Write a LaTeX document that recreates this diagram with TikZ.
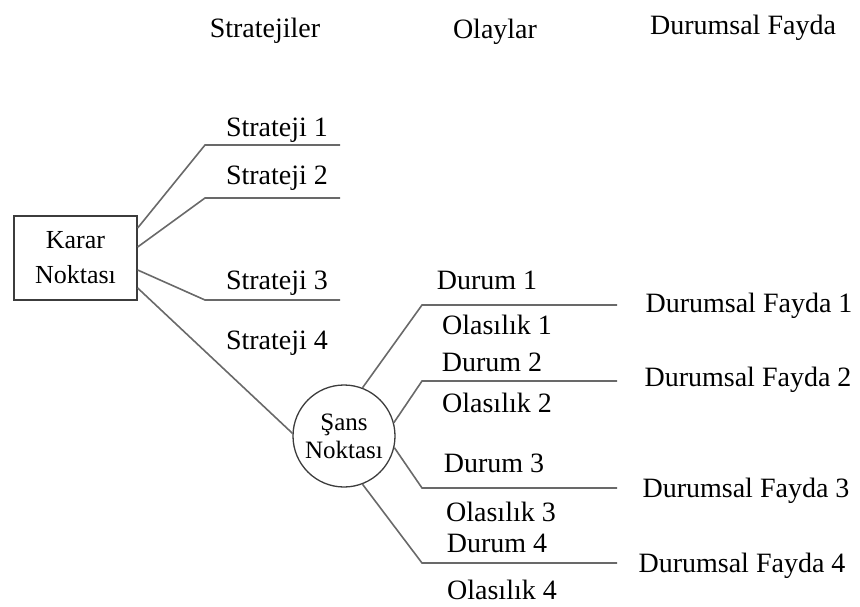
\documentclass[tikz,border=0pt]{standalone}
\usepackage{fontspec}
\setmainfont{Liberation Serif}
\usetikzlibrary{calc}
\definecolor{linegray}{RGB}{105,105,105}
\definecolor{boxgray}{RGB}{60,60,60}
\begin{document}
\begin{tikzpicture}[x=1pt,y=-1pt,
  lbl/.style={inner sep=0pt, text height=18.5pt, text depth=0pt, font=\fontsize{28}{32}\selectfont},
  br/.style={draw=linegray, line width=1.6pt},
  ]
\useasboundingbox (0,0) rectangle (860,606);
% headers
\node[lbl] (hS) at (265,28) {Stratejiler};
\node[lbl] (hO) at (495,29) {Olaylar};
\node[lbl] (hD) at (743,25) {Durumsal Fayda};
% decision node
\node[draw=boxgray, line width=1.3pt, minimum width=123pt, minimum height=84pt, inner sep=0pt,
      align=center, font=\fontsize{26}{35}\selectfont] (karar) at (75.5,258) {Karar\\Noktası};
% chance node
\node[circle, draw=boxgray, line width=1.3pt, minimum size=102pt, inner sep=0pt,
      align=center, font=\fontsize{25}{28}\selectfont] (sans) at (344,436) {Şans\\Noktası};
% strategy branches
\coordinate (s1b) at (205,145); \coordinate (s1e) at (340,145);
\coordinate (s2b) at (205,198); \coordinate (s2e) at (340,198);
\coordinate (s3b) at (205,300); \coordinate (s3e) at (340,300);
\draw[br] ($(karar.east)+(0,-30)$) -- (s1b) -- (s1e);
\draw[br] ($(karar.east)+(0,-11)$) -- (s2b) -- (s2e);
\draw[br] ($(karar.east)+(0,12)$) -- (s3b) -- (s3e);
\draw[br] ($(karar.east)+(0,30)$) -- (sans.177);
\node[lbl] (st1) at (277,127) {Strateji 1};
\node[lbl] (st2) at (277,175) {Strateji 2};
\node[lbl] (st3) at (277,280) {Strateji 3};
\node[lbl] (st4) at (277,340) {Strateji 4};
% event branches
\coordinate (e1b) at (422,305); \coordinate (e1e) at (617,305);
\coordinate (e2b) at (422,381); \coordinate (e2e) at (617,381);
\coordinate (e3b) at (422,488); \coordinate (e3e) at (617,488);
\coordinate (e4b) at (422,563); \coordinate (e4e) at (617,563);
\draw[br] (sans.69) -- (e1b) -- (e1e);
\draw[br] (sans.15) -- (e2b) -- (e2e);
\draw[br] (sans.-13) -- (e3b) -- (e3e);
\draw[br] (sans.-69) -- (e4b) -- (e4e);
\node[lbl] (d1) at (487,280) {Durum 1};
\node[lbl] (o1) at (497,325) {Olasılık 1};
\node[lbl] (d2) at (492,362) {Durum 2};
\node[lbl] (o2) at (497,403) {Olasılık 2};
\node[lbl] (d3) at (494,463) {Durum 3};
\node[lbl] (o3) at (501,512) {Olasılık 3};
\node[lbl] (d4) at (497,543) {Durum 4};
\node[lbl] (o4) at (502,590) {Olasılık 4};
% payoffs
\node[lbl] (f1) at (749,303) {Durumsal Fayda 1};
\node[lbl] (f2) at (748,377) {Durumsal Fayda 2};
\node[lbl] (f3) at (746,488) {Durumsal Fayda 3};
\node[lbl] (f4) at (742,563) {Durumsal Fayda 4};
\end{tikzpicture}
\end{document}
